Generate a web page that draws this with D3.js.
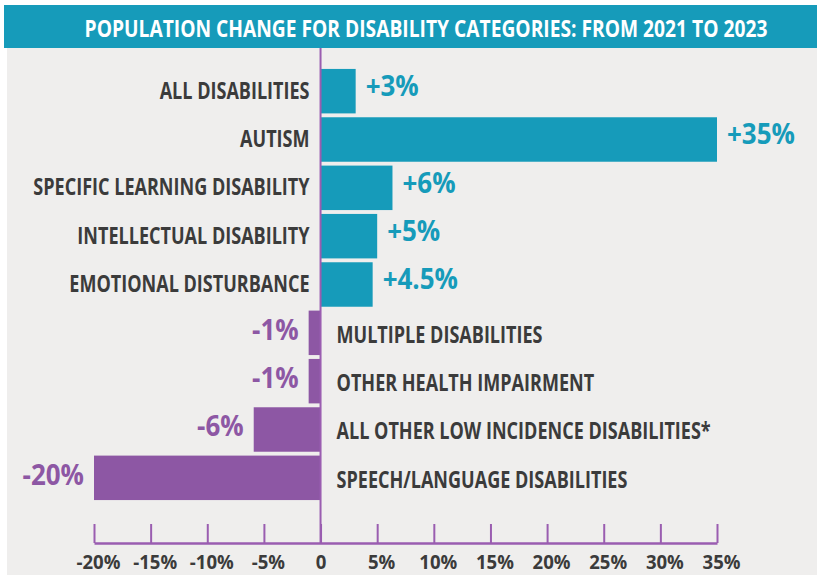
<!DOCTYPE html>
<html>
<head>
<meta charset="utf-8">
<script src="https://cdn.jsdelivr.net/npm/d3@7"></script>
<style>
  body { margin: 0; background: #fff; }
  svg text { font-family: "Open Sans", "Liberation Sans", sans-serif; font-weight: bold; }
</style>
</head>
<body>
<div id="chart"></div>
<script>
var categories = [
	"ALL DISABILITIES",
	"AUTISM",
	"SPECIFIC LEARNING DISABILITY",
	"INTELLECTUAL DISABILITY",
	"EMOTIONAL DISTURBANCE",
	"MULTIPLE DISABILITIES",
	"OTHER HEALTH IMPAIRMENT",
	"ALL OTHER LOW INCIDENCE DISABILITIES*",
	"SPEECH/LANGUAGE DISABILITIES"
];
// bar lengths (percent change)
var values = [3.1, 35, 6.35, 5.0, 4.6, -1.05, -1.05, -5.9, -20];
var valueLabels = ["+3%", "+35%", "+6%", "+5%", "+4.5%", "-1%", "-1%", "-6%", "-20%"];
var tickValues = [-20, -15, -10, -5, 0, 5, 10, 15, 20, 25, 30, 35];
var title = "POPULATION CHANGE FOR DISABILITY CATEGORIES: FROM 2021 TO 2023";

var width = 817, height = 575;
var teal = "#169bba", purple = "#8d57a4", axisPurple = "#9a5db0", textGray = "#3b3b3b";

var rows = categories.map(function(c, i) {
	return {name: c, value: values[i], label: valueLabels[i]};
});

var svg = d3.select("#chart").append("svg")
	.attr("width", width)
	.attr("height", height);

// the original uses a condensed face, so squeeze the texts horizontally
// about their anchor point. k comes from one sample text of known width.
function condense(sel, sampleText, sampleWidth) {
	var k = 1;
	sel.each(function() {
		if (this.textContent === sampleText) k = sampleWidth / this.getComputedTextLength();
	});
	sel.each(function() {
		var t = d3.select(this);
		var ax = +t.attr("x") || 0, ay = +t.attr("y") || 0;
		t.attr("transform", "translate(" + ax + "," + ay + ") scale(" + k + ",1) translate(" + (-ax) + "," + (-ay) + ")");
	});
}

//background panel and header
svg.append("rect")
	.attr("x", 7).attr("y", 48)
	.attr("width", width - 7).attr("height", height - 48)
	.attr("fill", "#efeeed");

svg.append("rect")
	.attr("x", 4).attr("y", 5)
	.attr("width", width - 4).attr("height", 43)
	.attr("fill", teal);

var titleText = svg.append("text")
	.attr("x", 426).attr("y", 37)
	.attr("text-anchor", "middle")
	.attr("font-size", "24px")
	.attr("fill", "#fff")
	.text(title);
condense(titleText, title, 683);

var x = d3.scaleLinear()
	.domain([-20, 35])
	.range([94, 717]);

var y = d3.scaleBand()
	.domain(categories)
	.range([67, 502])
	.paddingInner(0.08)
	.paddingOuter(0.04);

//bars
svg.selectAll(".bar")
	.data(rows)
	.enter()
	.append("rect")
	.attr("class", "bar")
	.attr("x", function(d) { return x(Math.min(0, d.value)); })
	.attr("y", function(d) { return y(d.name); })
	.attr("width", function(d) { return Math.abs(x(d.value) - x(0)); })
	.attr("height", y.bandwidth())
	.attr("fill", function(d) { return d.value >= 0 ? teal : purple; });

//category names, on the other side of zero
var names = svg.selectAll(".name")
	.data(rows)
	.enter()
	.append("text")
	.attr("class", "name")
	.attr("x", function(d) { return d.value >= 0 ? x(0) - 11 : x(0) + 16; })
	.attr("y", function(d) { return y(d.name) + y.bandwidth() / 2 + (d.value >= 0 ? 7.5 : 10); })
	.attr("text-anchor", function(d) { return d.value >= 0 ? "end" : "start"; })
	.attr("font-size", "24px")
	.attr("fill", textGray)
	.text(function(d) { return d.name; });
condense(names, "ALL DISABILITIES", 150);

//value labels at bar ends
var vals = svg.selectAll(".val")
	.data(rows)
	.enter()
	.append("text")
	.attr("class", "val")
	.attr("x", function(d) { return d.value >= 0 ? x(d.value) + 10 : x(d.value) - 10; })
	.attr("y", function(d) { return y(d.name) + y.bandwidth() / 2 + (d.value >= 0 ? 5 : 7); })
	.attr("text-anchor", function(d) { return d.value >= 0 ? "start" : "end"; })
	.attr("font-size", "28px")
	.attr("fill", function(d) { return d.value >= 0 ? teal : purple; })
	.text(function(d) { return d.label; });
condense(vals, "+35%", 68);

//bottom axis, ticks pointing up
var axis = svg.append("g")
	.attr("transform", "translate(0,543)")
	.call(d3.axisBottom(x)
		.tickValues(tickValues)
		.tickSizeInner(-19)
		.tickSizeOuter(0)
		.tickPadding(13)
		.tickFormat(function(d) { return d === 0 ? "0" : d + "%"; }));

axis.select(".domain")
	.attr("stroke", axisPurple)
	.attr("stroke-width", 2.5);
axis.selectAll(".tick line")
	.attr("stroke", axisPurple)
	.attr("stroke-width", 2);
var ticks = axis.selectAll(".tick text")
	.attr("font-size", "19px")
	.attr("font-family", null)
	.attr("fill", textGray)
	.attr("x", function(d) { return d === 0 ? 0 : 4; });
condense(ticks, "-20%", 44);

//zero line
svg.append("line")
	.attr("x1", x(0)).attr("x2", x(0))
	.attr("y1", 48).attr("y2", 543)
	.attr("stroke", axisPurple)
	.attr("stroke-width", 2);
</script>
</body>
</html>
